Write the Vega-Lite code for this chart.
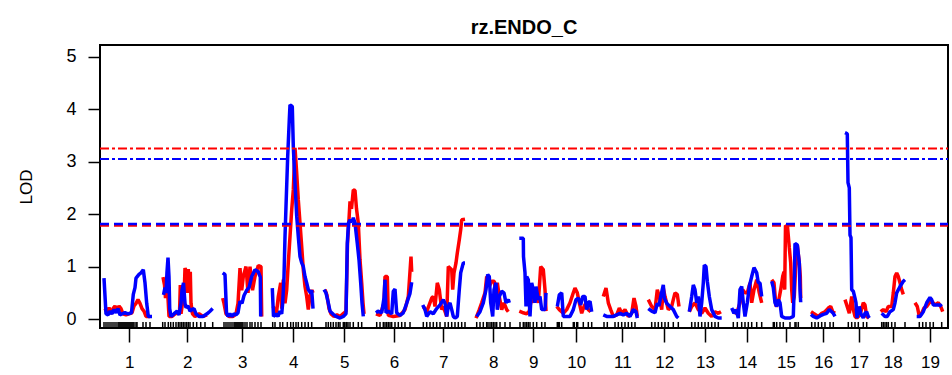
{
  "$schema": "https://vega.github.io/schema/vega-lite/v6.json",
  "width": 848,
  "height": 283,
  "autosize": {"type": "none"},
  "padding": {"left": 100, "top": 45, "right": 4, "bottom": 47},
  "background": "white",
  "title": {"text": "rz.ENDO_C", "fontSize": 20, "font": "Liberation Sans", "fontWeight": "bold", "color": "black", "anchor": "middle", "offset": -9, "baseline": "alphabetic"},
  "config": {
    "view": {"stroke": "black", "strokeWidth": 2},
    "axis": {"domain": false, "grid": false, "tickColor": "black", "labelColor": "black", "labelFont": "Liberation Sans", "titleFont": "Liberation Sans", "titleColor": "black"}
  },
  "datasets": {
    "hk": [
      {"chr":1,"pos":5,"lod":0.2},{"chr":1,"pos":7,"lod":0.12},{"chr":1,"pos":9,"lod":0.22},{"chr":1,"pos":11,"lod":0.1},{"chr":1,"pos":13,"lod":0.2},{"chr":1,"pos":15,"lod":0.25},{"chr":1,"pos":17,"lod":0.15},{"chr":1,"pos":19,"lod":0.25},{"chr":1,"pos":21,"lod":0.2},{"chr":1,"pos":23,"lod":0.1},{"chr":1,"pos":26,"lod":0.08},{"chr":1,"pos":29,"lod":0.1},{"chr":1,"pos":32,"lod":0.12},{"chr":1,"pos":34,"lod":0.25},{"chr":1,"pos":36,"lod":0.3},{"chr":1,"pos":38,"lod":0.37},{"chr":1,"pos":40,"lod":0.3},{"chr":1,"pos":42,"lod":0.2},{"chr":1,"pos":44,"lod":0.15},{"chr":1,"pos":46,"lod":0.05},{"chr":1,"pos":50,"lod":0.05},
      {"chr":2,"pos":63,"lod":0.8},{"chr":2,"pos":64.5,"lod":0.65},{"chr":2,"pos":65.5,"lod":0.4},{"chr":2,"pos":66.5,"lod":0.55},{"chr":2,"pos":68,"lod":0.4},{"chr":2,"pos":69,"lod":0.05},{"chr":2,"pos":72,"lod":0.05},{"chr":2,"pos":75,"lod":0.1},{"chr":2,"pos":78,"lod":0.12},{"chr":2,"pos":79.5,"lod":0.1},{"chr":2,"pos":80.3,"lod":0.65},{"chr":2,"pos":81,"lod":0.1},{"chr":2,"pos":82.5,"lod":0.3},{"chr":2,"pos":84,"lod":0.4},{"chr":2,"pos":85,"lod":0.97},{"chr":2,"pos":86.5,"lod":0.9},{"chr":2,"pos":87.3,"lod":0.5},{"chr":2,"pos":88.3,"lod":0.95},{"chr":2,"pos":89.3,"lod":0.6},{"chr":2,"pos":90.3,"lod":0.9},{"chr":2,"pos":91,"lod":0.3},{"chr":2,"pos":92.5,"lod":0.1},{"chr":2,"pos":95,"lod":0.05},{"chr":2,"pos":99,"lod":0.1},{"chr":2,"pos":103,"lod":0.05},{"chr":2,"pos":107,"lod":0.08},
      {"chr":3,"pos":122.7,"lod":0.4},{"chr":3,"pos":124,"lod":0.3},{"chr":3,"pos":126,"lod":0.1},{"chr":3,"pos":129,"lod":0.05},{"chr":3,"pos":133,"lod":0.05},{"chr":3,"pos":136,"lod":0.1},{"chr":3,"pos":138,"lod":0.3},{"chr":3,"pos":140,"lod":0.97},{"chr":3,"pos":141.7,"lod":0.55},{"chr":3,"pos":143.3,"lod":0.81},{"chr":3,"pos":146,"lod":1.0},{"chr":3,"pos":148,"lod":0.5},{"chr":3,"pos":150,"lod":1.0},{"chr":3,"pos":152.5,"lod":0.55},{"chr":3,"pos":155,"lod":0.81},{"chr":3,"pos":158.3,"lod":1.02},{"chr":3,"pos":161,"lod":1.0},{"chr":3,"pos":161.7,"lod":0.05},
      {"chr":4,"pos":173.3,"lod":0.24},{"chr":4,"pos":175,"lod":0.1},{"chr":4,"pos":176.7,"lod":0.15},{"chr":4,"pos":178.3,"lod":0.43},{"chr":4,"pos":180.7,"lod":0.69},{"chr":4,"pos":181.7,"lod":0.2},{"chr":4,"pos":183.3,"lod":0.75},{"chr":4,"pos":185,"lod":0.3},{"chr":4,"pos":186.7,"lod":0.56},{"chr":4,"pos":188.3,"lod":1.07},{"chr":4,"pos":190,"lod":1.57},{"chr":4,"pos":191.7,"lod":2.08},{"chr":4,"pos":193.3,"lod":2.46},{"chr":4,"pos":195,"lod":3.26},{"chr":4,"pos":196.7,"lod":2.78},{"chr":4,"pos":198.3,"lod":2.27},{"chr":4,"pos":200,"lod":1.83},{"chr":4,"pos":201.7,"lod":1.38},{"chr":4,"pos":203.3,"lod":0.94},{"chr":4,"pos":205,"lod":0.62},{"chr":4,"pos":206.7,"lod":0.43},{"chr":4,"pos":208.3,"lod":0.18},{"chr":4,"pos":210,"lod":0.45},{"chr":4,"pos":212,"lod":0.55},{"chr":4,"pos":213,"lod":0.5},
      {"chr":5,"pos":225,"lod":0.56},{"chr":5,"pos":227,"lod":0.45},{"chr":5,"pos":229,"lod":0.2},{"chr":5,"pos":231,"lod":0.1},{"chr":5,"pos":234,"lod":0.05},{"chr":5,"pos":237,"lod":0.08},{"chr":5,"pos":240,"lod":0.05},{"chr":5,"pos":243,"lod":0.1},{"chr":5,"pos":246,"lod":0.15},{"chr":5,"pos":247.5,"lod":1.44},{"chr":5,"pos":249,"lod":1.9},{"chr":5,"pos":250,"lod":2.24},{"chr":5,"pos":251.5,"lod":2.1},{"chr":5,"pos":253.3,"lod":2.46},{"chr":5,"pos":255,"lod":2.45},{"chr":5,"pos":256.5,"lod":2.1},{"chr":5,"pos":258.3,"lod":1.83},{"chr":5,"pos":260,"lod":1.13},{"chr":5,"pos":261.7,"lod":0.69},{"chr":5,"pos":263,"lod":0.31},{"chr":5,"pos":264,"lod":0.1},
      {"chr":6,"pos":276,"lod":0.1},{"chr":6,"pos":280,"lod":0.07},{"chr":6,"pos":284,"lod":0.3},{"chr":6,"pos":285,"lod":0.81},{"chr":6,"pos":287.3,"lod":0.81},{"chr":6,"pos":288.3,"lod":0.07},{"chr":6,"pos":293.3,"lod":0.05},{"chr":6,"pos":300,"lod":0.07},{"chr":6,"pos":305,"lod":0.18},{"chr":6,"pos":308.3,"lod":0.43},{"chr":6,"pos":311,"lod":1.19},{"chr":6,"pos":311.7,"lod":0.9},
      {"chr":7,"pos":323.3,"lod":0.24},{"chr":7,"pos":326.7,"lod":0.14},{"chr":7,"pos":331.7,"lod":0.4},{"chr":7,"pos":333.3,"lod":0.43},{"chr":7,"pos":335,"lod":0.24},{"chr":7,"pos":337.3,"lod":0.69},{"chr":7,"pos":339.3,"lod":0.56},{"chr":7,"pos":341.7,"lod":0.18},{"chr":7,"pos":343.3,"lod":0.24},{"chr":7,"pos":346.7,"lod":0.05},{"chr":7,"pos":348.3,"lod":1.0},{"chr":7,"pos":351.7,"lod":0.94},{"chr":7,"pos":352.7,"lod":0.56},{"chr":7,"pos":354,"lod":0.88},{"chr":7,"pos":356,"lod":1.07},{"chr":7,"pos":357.3,"lod":1.26},{"chr":7,"pos":359.3,"lod":1.51},{"chr":7,"pos":360.7,"lod":1.7},{"chr":7,"pos":361.7,"lod":1.89},{"chr":7,"pos":365,"lod":1.9},
      {"chr":8,"pos":376,"lod":0.02},{"chr":8,"pos":379.3,"lod":0.18},{"chr":8,"pos":381.7,"lod":0.31},{"chr":8,"pos":385,"lod":0.5},{"chr":8,"pos":386.7,"lod":0.81},{"chr":8,"pos":389.3,"lod":0.62},{"chr":8,"pos":391.7,"lod":0.72},{"chr":8,"pos":394.3,"lod":0.72},{"chr":8,"pos":396,"lod":0.43},{"chr":8,"pos":397.3,"lod":0.69},{"chr":8,"pos":399.3,"lod":0.43},{"chr":8,"pos":401.7,"lod":0.18},{"chr":8,"pos":404,"lod":0.31},{"chr":8,"pos":406.7,"lod":0.18},{"chr":8,"pos":408.3,"lod":0.14},
      {"chr":9,"pos":419.3,"lod":0.15},{"chr":9,"pos":423.3,"lod":0.12},{"chr":9,"pos":426.7,"lod":0.1},{"chr":9,"pos":429.3,"lod":0.15},{"chr":9,"pos":431.7,"lod":0.43},{"chr":9,"pos":433.3,"lod":0.31},{"chr":9,"pos":435,"lod":0.5},{"chr":9,"pos":438.3,"lod":0.31},{"chr":9,"pos":440.7,"lod":1.0},{"chr":9,"pos":443.3,"lod":0.94},{"chr":9,"pos":445,"lod":0.56},{"chr":9,"pos":446,"lod":0.15},
      {"chr":10,"pos":456.7,"lod":0.24},{"chr":10,"pos":459.3,"lod":0.18},{"chr":10,"pos":463.3,"lod":0.11},{"chr":10,"pos":466.7,"lod":0.18},{"chr":10,"pos":470,"lod":0.31},{"chr":10,"pos":473.3,"lod":0.5},{"chr":10,"pos":475,"lod":0.59},{"chr":10,"pos":477.3,"lod":0.5},{"chr":10,"pos":479.3,"lod":0.31},{"chr":10,"pos":481.7,"lod":0.11},{"chr":10,"pos":484,"lod":0.24},{"chr":10,"pos":486,"lod":0.31},{"chr":10,"pos":488.3,"lod":0.18},{"chr":10,"pos":490.7,"lod":0.14},
      {"chr":11,"pos":503.3,"lod":0.43},{"chr":11,"pos":506,"lod":0.59},{"chr":11,"pos":508.3,"lod":0.31},{"chr":11,"pos":510.7,"lod":0.18},{"chr":11,"pos":513.3,"lod":0.05},{"chr":11,"pos":516.7,"lod":0.08},{"chr":11,"pos":519.3,"lod":0.21},{"chr":11,"pos":521.7,"lod":0.11},{"chr":11,"pos":525,"lod":0.18},{"chr":11,"pos":528.3,"lod":0.05},{"chr":11,"pos":531.7,"lod":0.11},{"chr":11,"pos":534,"lod":0.4},{"chr":11,"pos":536,"lod":0.24},{"chr":11,"pos":537.3,"lod":0.05},
      {"chr":12,"pos":548.3,"lod":0.37},{"chr":12,"pos":551.7,"lod":0.24},{"chr":12,"pos":555,"lod":0.18},{"chr":12,"pos":557.3,"lod":0.56},{"chr":12,"pos":559.3,"lod":0.43},{"chr":12,"pos":561.7,"lod":0.18},{"chr":12,"pos":563.3,"lod":0.59},{"chr":12,"pos":565,"lod":0.43},{"chr":12,"pos":568.3,"lod":0.18},{"chr":12,"pos":571.7,"lod":0.24},{"chr":12,"pos":573.3,"lod":0.37},{"chr":12,"pos":575,"lod":0.5},{"chr":12,"pos":577.3,"lod":0.47},{"chr":12,"pos":579,"lod":0.24},
      {"chr":13,"pos":589.3,"lod":0.14},{"chr":13,"pos":591.7,"lod":0.24},{"chr":13,"pos":595,"lod":0.31},{"chr":13,"pos":598.3,"lod":0.18},{"chr":13,"pos":601.7,"lod":0.11},{"chr":13,"pos":605,"lod":0.21},{"chr":13,"pos":608.3,"lod":0.11},{"chr":13,"pos":611.7,"lod":0.05},{"chr":13,"pos":615,"lod":0.14},{"chr":13,"pos":618.3,"lod":0.11},{"chr":13,"pos":621,"lod":0.14},
      {"chr":14,"pos":633.3,"lod":0.14},{"chr":14,"pos":636.7,"lod":0.11},{"chr":14,"pos":640,"lod":0.31},{"chr":14,"pos":642.7,"lod":0.56},{"chr":14,"pos":645,"lod":0.5},{"chr":14,"pos":647.3,"lod":0.5},{"chr":14,"pos":650,"lod":0.69},{"chr":14,"pos":651.7,"lod":0.31},{"chr":14,"pos":654,"lod":0.56},{"chr":14,"pos":656.7,"lod":0.75},{"chr":14,"pos":659.3,"lod":0.5},{"chr":14,"pos":661.7,"lod":0.31},
      {"chr":15,"pos":671.7,"lod":0.75},{"chr":15,"pos":674,"lod":0.69},{"chr":15,"pos":676,"lod":0.24},{"chr":15,"pos":678.3,"lod":0.31},{"chr":15,"pos":680.7,"lod":0.56},{"chr":15,"pos":682.7,"lod":0.81},{"chr":15,"pos":684,"lod":0.9},{"chr":15,"pos":684.7,"lod":0.56},{"chr":15,"pos":685.5,"lod":1.78},{"chr":15,"pos":687.5,"lod":1.76},{"chr":15,"pos":689.3,"lod":1.36},{"chr":15,"pos":690.7,"lod":1.07},{"chr":15,"pos":691.7,"lod":0.56},{"chr":15,"pos":692.7,"lod":0.31},{"chr":15,"pos":694.3,"lod":0.43},{"chr":15,"pos":695.7,"lod":1.0},{"chr":15,"pos":697.3,"lod":1.41},{"chr":15,"pos":699.3,"lod":1.07},{"chr":15,"pos":700.3,"lod":0.81},{"chr":15,"pos":700.7,"lod":0.4},
      {"chr":16,"pos":711,"lod":0.14},{"chr":16,"pos":713.3,"lod":0.11},{"chr":16,"pos":718.3,"lod":0.05},{"chr":16,"pos":721.7,"lod":0.11},{"chr":16,"pos":725,"lod":0.14},{"chr":16,"pos":728.3,"lod":0.21},{"chr":16,"pos":730.7,"lod":0.24},{"chr":16,"pos":732.7,"lod":0.14},{"chr":16,"pos":735,"lod":0.11},
      {"chr":17,"pos":745,"lod":0.37},{"chr":17,"pos":746.7,"lod":0.27},{"chr":17,"pos":749.3,"lod":0.11},{"chr":17,"pos":751.7,"lod":0.43},{"chr":17,"pos":753.3,"lod":0.18},{"chr":17,"pos":755,"lod":0.05},{"chr":17,"pos":756.7,"lod":0.02},{"chr":17,"pos":760,"lod":0.08},{"chr":17,"pos":763.3,"lod":0.31},{"chr":17,"pos":765,"lod":0.27},{"chr":17,"pos":766.7,"lod":0.05},{"chr":17,"pos":769,"lod":0.02},
      {"chr":18,"pos":780.7,"lod":0.14},{"chr":18,"pos":783.3,"lod":0.18},{"chr":18,"pos":786,"lod":0.14},{"chr":18,"pos":788.3,"lod":0.24},{"chr":18,"pos":791.7,"lod":0.24},{"chr":18,"pos":793.3,"lod":0.5},{"chr":18,"pos":795,"lod":0.81},{"chr":18,"pos":796.7,"lod":0.88},{"chr":18,"pos":798.3,"lod":0.81},{"chr":18,"pos":800,"lod":0.69},{"chr":18,"pos":801.7,"lod":0.56},{"chr":18,"pos":803.3,"lod":0.47},
      {"chr":19,"pos":815,"lod":0.31},{"chr":19,"pos":817.3,"lod":0.24},{"chr":19,"pos":819.3,"lod":0.05},{"chr":19,"pos":821.7,"lod":0.11},{"chr":19,"pos":824,"lod":0.21},{"chr":19,"pos":826.7,"lod":0.24},{"chr":19,"pos":829.3,"lod":0.31},{"chr":19,"pos":831.7,"lod":0.34},{"chr":19,"pos":835,"lod":0.27},{"chr":19,"pos":838.3,"lod":0.31},{"chr":19,"pos":840.7,"lod":0.24},{"chr":19,"pos":842.7,"lod":0.14}
    ],
    "em": [
      {"chr":1,"pos":4,"lod":0.78},{"chr":1,"pos":6,"lod":0.1},{"chr":1,"pos":8,"lod":0.08},{"chr":1,"pos":10,"lod":0.15},{"chr":1,"pos":12,"lod":0.1},{"chr":1,"pos":14,"lod":0.18},{"chr":1,"pos":16,"lod":0.12},{"chr":1,"pos":18,"lod":0.2},{"chr":1,"pos":20,"lod":0.08},{"chr":1,"pos":22,"lod":0.1},{"chr":1,"pos":25,"lod":0.12},{"chr":1,"pos":28,"lod":0.1},{"chr":1,"pos":31.5,"lod":0.12},{"chr":1,"pos":33.3,"lod":0.47},{"chr":1,"pos":35,"lod":0.6},{"chr":1,"pos":36,"lod":0.78},{"chr":1,"pos":39,"lod":0.85},{"chr":1,"pos":41,"lod":0.88},{"chr":1,"pos":43.3,"lod":0.94},{"chr":1,"pos":45,"lod":0.69},{"chr":1,"pos":46.7,"lod":0.3},{"chr":1,"pos":48.3,"lod":0.05},{"chr":1,"pos":52,"lod":0.05},
      {"chr":2,"pos":63.5,"lod":0.46},{"chr":2,"pos":65,"lod":0.6},{"chr":2,"pos":66,"lod":0.5},{"chr":2,"pos":67,"lod":0.9},{"chr":2,"pos":68,"lod":1.17},{"chr":2,"pos":69,"lod":0.8},{"chr":2,"pos":69.7,"lod":0.2},{"chr":2,"pos":71,"lod":0.05},{"chr":2,"pos":73,"lod":0.08},{"chr":2,"pos":75,"lod":0.12},{"chr":2,"pos":77,"lod":0.15},{"chr":2,"pos":79,"lod":0.08},{"chr":2,"pos":81,"lod":0.3},{"chr":2,"pos":82,"lod":0.55},{"chr":2,"pos":83.5,"lod":0.69},{"chr":2,"pos":85,"lod":0.3},{"chr":2,"pos":86,"lod":0.22},{"chr":2,"pos":88,"lod":0.25},{"chr":2,"pos":90,"lod":0.15},{"chr":2,"pos":92,"lod":0.18},{"chr":2,"pos":94,"lod":0.2},{"chr":2,"pos":96,"lod":0.1},{"chr":2,"pos":99,"lod":0.05},{"chr":2,"pos":103,"lod":0.05},{"chr":2,"pos":107,"lod":0.1},{"chr":2,"pos":110,"lod":0.15},{"chr":2,"pos":112.7,"lod":0.2},
      {"chr":3,"pos":122.7,"lod":0.88},{"chr":3,"pos":125,"lod":0.85},{"chr":3,"pos":126.5,"lod":0.12},{"chr":3,"pos":128,"lod":0.05},{"chr":3,"pos":130,"lod":0.1},{"chr":3,"pos":132,"lod":0.05},{"chr":3,"pos":134,"lod":0.1},{"chr":3,"pos":136,"lod":0.08},{"chr":3,"pos":138,"lod":0.12},{"chr":3,"pos":140,"lod":0.34},{"chr":3,"pos":142,"lod":0.3},{"chr":3,"pos":144,"lod":0.45},{"chr":3,"pos":146.7,"lod":0.55},{"chr":3,"pos":149,"lod":0.6},{"chr":3,"pos":151.7,"lod":0.81},{"chr":3,"pos":155,"lod":0.94},{"chr":3,"pos":158.3,"lod":0.9},{"chr":3,"pos":160.3,"lod":0.8},{"chr":3,"pos":160.7,"lod":0.05},
      {"chr":4,"pos":172.3,"lod":0.59},{"chr":4,"pos":173.5,"lod":0.05},{"chr":4,"pos":176,"lod":0.1},{"chr":4,"pos":178,"lod":0.05},{"chr":4,"pos":180,"lod":0.15},{"chr":4,"pos":181.7,"lod":0.1},{"chr":4,"pos":182.7,"lod":0.31},{"chr":4,"pos":184,"lod":0.81},{"chr":4,"pos":185,"lod":1.57},{"chr":4,"pos":186,"lod":2.15},{"chr":4,"pos":187.7,"lod":3.1},{"chr":4,"pos":189.3,"lod":3.8},{"chr":4,"pos":190,"lod":4.08},{"chr":4,"pos":192.3,"lod":4.05},{"chr":4,"pos":193.3,"lod":3.29},{"chr":4,"pos":195,"lod":2.59},{"chr":4,"pos":196.7,"lod":1.96},{"chr":4,"pos":198.3,"lod":1.57},{"chr":4,"pos":200,"lod":1.19},{"chr":4,"pos":201.7,"lod":1.07},{"chr":4,"pos":203.3,"lod":1.0},{"chr":4,"pos":205,"lod":0.81},{"chr":4,"pos":206.7,"lod":0.69},{"chr":4,"pos":208.3,"lod":0.56},{"chr":4,"pos":210.7,"lod":0.5},{"chr":4,"pos":211.7,"lod":0.55},{"chr":4,"pos":213,"lod":0.2},
      {"chr":5,"pos":224,"lod":0.56},{"chr":5,"pos":226,"lod":0.5},{"chr":5,"pos":228.3,"lod":0.31},{"chr":5,"pos":230,"lod":0.15},{"chr":5,"pos":233.3,"lod":0.09},{"chr":5,"pos":236,"lod":0.05},{"chr":5,"pos":240,"lod":0.02},{"chr":5,"pos":243.3,"lod":0.05},{"chr":5,"pos":246,"lod":0.1},{"chr":5,"pos":247.3,"lod":1.44},{"chr":5,"pos":248.5,"lod":1.83},{"chr":5,"pos":250,"lod":1.89},{"chr":5,"pos":252,"lod":1.85},{"chr":5,"pos":253.3,"lod":1.93},{"chr":5,"pos":255,"lod":1.83},{"chr":5,"pos":257.3,"lod":1.44},{"chr":5,"pos":259,"lod":1.13},{"chr":5,"pos":260.7,"lod":0.69},{"chr":5,"pos":262,"lod":0.31},{"chr":5,"pos":263.3,"lod":0.05},
      {"chr":6,"pos":276,"lod":0.12},{"chr":6,"pos":278,"lod":0.15},{"chr":6,"pos":281.7,"lod":0.12},{"chr":6,"pos":284,"lod":0.4},{"chr":6,"pos":285,"lod":0.75},{"chr":6,"pos":286,"lod":0.12},{"chr":6,"pos":288.3,"lod":0.15},{"chr":6,"pos":291.7,"lod":0.1},{"chr":6,"pos":293.3,"lod":0.53},{"chr":6,"pos":295,"lod":0.57},{"chr":6,"pos":296.7,"lod":0.12},{"chr":6,"pos":300,"lod":0.07},{"chr":6,"pos":303.3,"lod":0.12},{"chr":6,"pos":306.7,"lod":0.3},{"chr":6,"pos":310,"lod":0.49},{"chr":6,"pos":311.7,"lod":0.7},
      {"chr":7,"pos":322.7,"lod":0.27},{"chr":7,"pos":325,"lod":0.18},{"chr":7,"pos":326.7,"lod":0.05},{"chr":7,"pos":330,"lod":0.14},{"chr":7,"pos":333.3,"lod":0.1},{"chr":7,"pos":336.7,"lod":0.2},{"chr":7,"pos":340,"lod":0.27},{"chr":7,"pos":343.3,"lod":0.37},{"chr":7,"pos":345,"lod":0.3},{"chr":7,"pos":346.7,"lod":0.05},{"chr":7,"pos":348.3,"lod":0.24},{"chr":7,"pos":350,"lod":0.31},{"chr":7,"pos":351.7,"lod":0.18},{"chr":7,"pos":353.3,"lod":0.05},{"chr":7,"pos":355,"lod":0.02},{"chr":7,"pos":357.3,"lod":0.05},{"chr":7,"pos":359.3,"lod":0.56},{"chr":7,"pos":360.7,"lod":0.88},{"chr":7,"pos":363.3,"lod":1.07},{"chr":7,"pos":365,"lod":1.07},
      {"chr":8,"pos":376.7,"lod":0.05},{"chr":8,"pos":380,"lod":0.14},{"chr":8,"pos":383.3,"lod":0.31},{"chr":8,"pos":386,"lod":0.56},{"chr":8,"pos":387.7,"lod":0.85},{"chr":8,"pos":389.3,"lod":0.81},{"chr":8,"pos":390.7,"lod":0.31},{"chr":8,"pos":392.7,"lod":0.05},{"chr":8,"pos":394,"lod":0.56},{"chr":8,"pos":396,"lod":0.69},{"chr":8,"pos":397.3,"lod":0.18},{"chr":8,"pos":399.3,"lod":0.43},{"chr":8,"pos":401.7,"lod":0.53},{"chr":8,"pos":404,"lod":0.5},{"chr":8,"pos":406,"lod":0.31},{"chr":8,"pos":408.3,"lod":0.37},{"chr":8,"pos":409.3,"lod":0.31},
      {"chr":9,"pos":419.3,"lod":1.54},{"chr":9,"pos":423.3,"lod":1.54},{"chr":9,"pos":423.5,"lod":1.19},{"chr":9,"pos":425,"lod":0.88},{"chr":9,"pos":426,"lod":0.24},{"chr":9,"pos":426.7,"lod":0.81},{"chr":9,"pos":428.3,"lod":0.75},{"chr":9,"pos":430,"lod":0.05},{"chr":9,"pos":431.7,"lod":0.69},{"chr":9,"pos":433.3,"lod":0.56},{"chr":9,"pos":435,"lod":0.31},{"chr":9,"pos":436,"lod":0.62},{"chr":9,"pos":438.3,"lod":0.37},{"chr":9,"pos":440,"lod":0.43},{"chr":9,"pos":441.7,"lod":0.18},{"chr":9,"pos":445,"lod":0.18},{"chr":9,"pos":446,"lod":0.5},
      {"chr":10,"pos":457.3,"lod":0.24},{"chr":10,"pos":459.3,"lod":0.46},{"chr":10,"pos":461.7,"lod":0.5},{"chr":10,"pos":463.3,"lod":0.05},{"chr":10,"pos":466.7,"lod":0.05},{"chr":10,"pos":470,"lod":0.05},{"chr":10,"pos":473.3,"lod":0.18},{"chr":10,"pos":476,"lod":0.37},{"chr":10,"pos":478.3,"lod":0.4},{"chr":10,"pos":480.7,"lod":0.27},{"chr":10,"pos":482.7,"lod":0.43},{"chr":10,"pos":485,"lod":0.43},{"chr":10,"pos":486.7,"lod":0.18},{"chr":10,"pos":488.3,"lod":0.31},{"chr":10,"pos":490,"lod":0.34},{"chr":10,"pos":491.7,"lod":0.14},
      {"chr":11,"pos":503.3,"lod":0.08},{"chr":11,"pos":506.7,"lod":0.05},{"chr":11,"pos":513.3,"lod":0.05},{"chr":11,"pos":520,"lod":0.11},{"chr":11,"pos":523.3,"lod":0.08},{"chr":11,"pos":526.7,"lod":0.11},{"chr":11,"pos":530,"lod":0.05},{"chr":11,"pos":533.3,"lod":0.18},{"chr":11,"pos":536,"lod":0.14},{"chr":11,"pos":537.3,"lod":0.02},
      {"chr":12,"pos":548.3,"lod":0.2},{"chr":12,"pos":551.7,"lod":0.15},{"chr":12,"pos":555,"lod":0.12},{"chr":12,"pos":557.3,"lod":0.3},{"chr":12,"pos":559,"lod":0.25},{"chr":12,"pos":561,"lod":0.45},{"chr":12,"pos":563.3,"lod":0.65},{"chr":12,"pos":564.3,"lod":0.4},{"chr":12,"pos":566.7,"lod":0.3},{"chr":12,"pos":570,"lod":0.24},{"chr":12,"pos":573.3,"lod":0.18},{"chr":12,"pos":576.7,"lod":0.05},{"chr":12,"pos":578.3,"lod":0.02},
      {"chr":13,"pos":589.3,"lod":0.14},{"chr":13,"pos":591.7,"lod":0.43},{"chr":13,"pos":593.3,"lod":0.65},{"chr":13,"pos":595,"lod":0.56},{"chr":13,"pos":596.7,"lod":0.31},{"chr":13,"pos":598.3,"lod":0.43},{"chr":13,"pos":600,"lod":0.05},{"chr":13,"pos":601.7,"lod":0.31},{"chr":13,"pos":603.3,"lod":0.69},{"chr":13,"pos":604.3,"lod":1.03},{"chr":13,"pos":606,"lod":1.0},{"chr":13,"pos":607.3,"lod":0.72},{"chr":13,"pos":609.3,"lod":0.43},{"chr":13,"pos":611.7,"lod":0.18},{"chr":13,"pos":615,"lod":0.05},{"chr":13,"pos":618.3,"lod":0.02},{"chr":13,"pos":621.7,"lod":0.02},
      {"chr":14,"pos":631.7,"lod":0.21},{"chr":14,"pos":634,"lod":0.11},{"chr":14,"pos":636,"lod":0.18},{"chr":14,"pos":638.3,"lod":0.02},{"chr":14,"pos":640,"lod":0.56},{"chr":14,"pos":641.7,"lod":0.62},{"chr":14,"pos":643.3,"lod":0.31},{"chr":14,"pos":645,"lod":0.05},{"chr":14,"pos":647.3,"lod":0.31},{"chr":14,"pos":649.3,"lod":0.62},{"chr":14,"pos":651.7,"lod":0.81},{"chr":14,"pos":654,"lod":0.98},{"chr":14,"pos":656.7,"lod":0.88},{"chr":14,"pos":658.3,"lod":0.69},{"chr":14,"pos":660,"lod":0.69},{"chr":14,"pos":661.7,"lod":0.43},
      {"chr":15,"pos":671.7,"lod":0.72},{"chr":15,"pos":673.3,"lod":0.6},{"chr":15,"pos":675,"lod":0.31},{"chr":15,"pos":676.7,"lod":0.24},{"chr":15,"pos":678.3,"lod":0.37},{"chr":15,"pos":680,"lod":0.31},{"chr":15,"pos":681.7,"lod":0.05},{"chr":15,"pos":685,"lod":0.02},{"chr":15,"pos":690,"lod":0.02},{"chr":15,"pos":693.3,"lod":0.05},{"chr":15,"pos":694.3,"lod":0.69},{"chr":15,"pos":695,"lod":1.44},{"chr":15,"pos":697.3,"lod":1.41},{"chr":15,"pos":699.3,"lod":1.07},{"chr":15,"pos":700,"lod":0.56},{"chr":15,"pos":700.7,"lod":0.32},
      {"chr":16,"pos":711,"lod":0.09},{"chr":16,"pos":713.3,"lod":0.05},{"chr":16,"pos":716.7,"lod":0.02},{"chr":16,"pos":720,"lod":0.06},{"chr":16,"pos":723.3,"lod":0.09},{"chr":16,"pos":726.7,"lod":0.11},{"chr":16,"pos":729.3,"lod":0.18},{"chr":16,"pos":731.7,"lod":0.14},{"chr":16,"pos":733.3,"lod":0.11},{"chr":16,"pos":735,"lod":0.05},
      {"chr":17,"pos":745,"lod":3.55},{"chr":17,"pos":747.3,"lod":3.53},{"chr":17,"pos":748,"lod":2.6},{"chr":17,"pos":749.3,"lod":2.5},{"chr":17,"pos":750,"lod":1.6},{"chr":17,"pos":751,"lod":1.55},{"chr":17,"pos":751.7,"lod":0.56},{"chr":17,"pos":753.3,"lod":0.53},{"chr":17,"pos":755,"lod":0.4},{"chr":17,"pos":756,"lod":0.31},{"chr":17,"pos":757,"lod":0.02},{"chr":17,"pos":759.3,"lod":0.24},{"chr":17,"pos":760.7,"lod":0.11},{"chr":17,"pos":763.3,"lod":0.02},{"chr":17,"pos":765,"lod":0.11},{"chr":17,"pos":766.7,"lod":0.14},{"chr":17,"pos":768.3,"lod":0.05},{"chr":17,"pos":769.3,"lod":0.02},
      {"chr":18,"pos":781.7,"lod":0.11},{"chr":18,"pos":785,"lod":0.05},{"chr":18,"pos":787.3,"lod":0.05},{"chr":18,"pos":790,"lod":0.14},{"chr":18,"pos":793.3,"lod":0.18},{"chr":18,"pos":795,"lod":0.31},{"chr":18,"pos":796.7,"lod":0.5},{"chr":18,"pos":800,"lod":0.62},{"chr":18,"pos":803.3,"lod":0.72},{"chr":18,"pos":805,"lod":0.75},
      {"chr":19,"pos":816.7,"lod":0.05},{"chr":19,"pos":820,"lod":0.05},{"chr":19,"pos":823.3,"lod":0.14},{"chr":19,"pos":826.7,"lod":0.31},{"chr":19,"pos":830,"lod":0.41},{"chr":19,"pos":831.7,"lod":0.37},{"chr":19,"pos":833.3,"lod":0.27},{"chr":19,"pos":836.7,"lod":0.27},{"chr":19,"pos":840,"lod":0.27},{"chr":19,"pos":841.7,"lod":0.24}
    ],
    "markers": [
      {"pos":4},{"pos":6},{"pos":8},{"pos":10},{"pos":12},{"pos":14},{"pos":16},{"pos":18},{"pos":19},{"pos":20},{"pos":21},{"pos":22},{"pos":23},{"pos":24},{"pos":25},{"pos":26},{"pos":27},{"pos":28},{"pos":29},{"pos":30},{"pos":31},{"pos":32},{"pos":33},{"pos":34},{"pos":36},{"pos":37},{"pos":43},{"pos":46},{"pos":50},
      {"pos":62.7},{"pos":65},{"pos":68.3},{"pos":70.7},{"pos":73.3},{"pos":76},{"pos":78.3},{"pos":80},{"pos":81.7},{"pos":83.3},{"pos":85},{"pos":86.7},{"pos":88.3},{"pos":90},{"pos":93.3},{"pos":96.7},{"pos":100.7},{"pos":105},{"pos":112.7},
      {"pos":124},{"pos":126},{"pos":128},{"pos":130},{"pos":132},{"pos":134},{"pos":135},{"pos":136},{"pos":137},{"pos":138},{"pos":139},{"pos":140},{"pos":141},{"pos":142},{"pos":143},{"pos":145},{"pos":147},{"pos":150},{"pos":152},{"pos":155},{"pos":158},{"pos":161},
      {"pos":172.7},{"pos":175},{"pos":180},{"pos":182.7},{"pos":187.3},{"pos":190.7},{"pos":193.3},{"pos":196},{"pos":198.3},{"pos":201.7},{"pos":205},{"pos":208.3},{"pos":211.7},
      {"pos":226},{"pos":228.3},{"pos":230.7},{"pos":233.3},{"pos":236},{"pos":238.3},{"pos":240},{"pos":243.3},{"pos":244.3},{"pos":245},{"pos":246.7},{"pos":248},{"pos":250},{"pos":253.3},{"pos":258.3},{"pos":261.7},
      {"pos":276.7},{"pos":280},{"pos":283.3},{"pos":285},{"pos":286.7},{"pos":288.3},{"pos":290},{"pos":291.7},{"pos":295},{"pos":298.3},{"pos":301.7},{"pos":305},{"pos":310},
      {"pos":323.3},{"pos":326.7},{"pos":330},{"pos":333.3},{"pos":336.7},{"pos":340},{"pos":345},{"pos":348.3},{"pos":351.7},{"pos":355},{"pos":358.3},{"pos":361.7},{"pos":365},
      {"pos":376.7},{"pos":380},{"pos":383.3},{"pos":386.7},{"pos":388},{"pos":390},{"pos":391.7},{"pos":393.3},{"pos":395},{"pos":396.7},{"pos":400},{"pos":405},{"pos":410},
      {"pos":420},{"pos":423.3},{"pos":425},{"pos":426.7},{"pos":428.3},{"pos":430},{"pos":433.3},{"pos":436.7},{"pos":441.7},{"pos":445},
      {"pos":457.3},{"pos":458.3},{"pos":459.3},{"pos":461.7},{"pos":473.3},{"pos":474.3},{"pos":476.7},{"pos":477.7},{"pos":483.3},{"pos":488.3},{"pos":491.7},
      {"pos":504},{"pos":507.3},{"pos":515},{"pos":518.3},{"pos":521.7},{"pos":525},{"pos":528.3},{"pos":531.7},{"pos":535},
      {"pos":551.7},{"pos":555},{"pos":558.3},{"pos":561.7},{"pos":565},{"pos":568.3},{"pos":573.3},{"pos":578.3},
      {"pos":591.7},{"pos":595},{"pos":598.3},{"pos":601.7},{"pos":605},{"pos":608.3},{"pos":611.7},{"pos":615},{"pos":618.3},
      {"pos":633.3},{"pos":637.3},{"pos":641.7},{"pos":645},{"pos":648.3},{"pos":651.7},{"pos":656.7},{"pos":661.7},
      {"pos":673.3},{"pos":674.3},{"pos":676.7},{"pos":680},{"pos":683.3},{"pos":690},{"pos":695},{"pos":696},{"pos":698.3},
      {"pos":711.7},{"pos":715},{"pos":718.3},{"pos":721.7},{"pos":725},{"pos":730},{"pos":733.3},
      {"pos":748.3},{"pos":751.7},{"pos":755},{"pos":758.3},{"pos":763.3},{"pos":766.7},
      {"pos":781.7},{"pos":783.3},{"pos":785},{"pos":786.7},{"pos":788.3},{"pos":791.7},{"pos":795},{"pos":805},
      {"pos":819.3},{"pos":822.7},{"pos":826},{"pos":830},{"pos":833.3},{"pos":841.7}
    ],
    "thresholds": [
      {"lod":3.25,"method":"hk","level":"high"},
      {"lod":3.05,"method":"em","level":"high"},
      {"lod":1.78,"method":"hk","level":"low"},
      {"lod":1.81,"method":"em","level":"low"}
    ]
  },
  "encoding": {
    "x": {"field": "pos", "type": "quantitative", "scale": {"domain": [0, 848], "nice": false, "zero": false},
      "axis": {"title": null, "values": [29.3, 87.3, 142.3, 193.3, 244.3, 294, 343.3, 393.3, 433.3, 476.3, 522.3, 564.3, 605, 647.3, 686, 723.3, 759, 792.7, 830],
        "labelExpr": "indexof([29.3, 87.3, 142.3, 193.3, 244.3, 294, 343.3, 393.3, 433.3, 476.3, 522.3, 564.3, 605, 647.3, 686, 723.3, 759, 792.7, 830], datum.value) + 1",
        "tickSize": 14, "tickWidth": 1.5, "labelFontSize": 17, "labelPadding": 12, "labelFlush": false, "labelOverlap": false}}
  },
  "layer": [
    {
      "data": {"name": "hk"},
      "mark": {"type": "line", "color": "#ff0000", "strokeWidth": 3.5, "strokeJoin": "bevel", "strokeCap": "butt"},
      "encoding": {
        "y": {"field": "lod", "type": "quantitative", "scale": {"domain": [-0.17, 5.22], "nice": false, "zero": false},
          "axis": {"title": "LOD", "values": [0, 1, 2, 3, 4, 5], "format": "d", "tickSize": 12, "tickWidth": 1.5, "labelFontSize": 18, "labelPadding": 12, "titleFontSize": 17, "titleFontWeight": "normal", "titlePadding": 30}},
        "detail": {"field": "chr"}
      }
    },
    {
      "data": {"name": "em"},
      "mark": {"type": "line", "color": "#0000ff", "strokeWidth": 3.5, "strokeJoin": "bevel", "strokeCap": "butt"},
      "encoding": {
        "y": {"field": "lod", "type": "quantitative"},
        "detail": {"field": "chr"}
      }
    },
    {
      "data": {"name": "markers"},
      "mark": {"type": "rule", "color": "black", "strokeWidth": 1.5},
      "encoding": {
        "y": {"datum": -0.17, "type": "quantitative"},
        "y2": {"datum": -0.055}
      }
    },
    {
      "data": {"name": "thresholds"},
      "transform": [{"filter": "datum.level == 'high'"}],
      "mark": {"type": "rule", "strokeWidth": 2, "strokeDash": [9, 3, 3, 3]},
      "encoding": {
        "x": {"value": 0},
        "x2": {"value": 848},
        "y": {"field": "lod", "type": "quantitative"},
        "color": {"field": "method", "type": "nominal", "scale": {"domain": ["hk", "em"], "range": ["#ff0000", "#0000ff"]}, "legend": null}
      }
    },
    {
      "data": {"name": "thresholds"},
      "transform": [{"filter": "datum.level == 'low'"}],
      "mark": {"type": "rule", "strokeWidth": 2.5, "strokeDash": [9, 5]},
      "encoding": {
        "x": {"value": 0},
        "x2": {"value": 848},
        "y": {"field": "lod", "type": "quantitative"},
        "color": {"field": "method", "type": "nominal", "scale": {"domain": ["hk", "em"], "range": ["#ff0000", "#0000ff"]}, "legend": null}
      }
    }
  ]
}
